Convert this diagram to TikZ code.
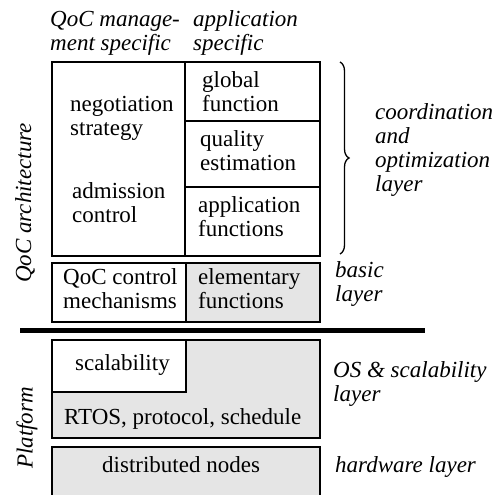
\documentclass[tikz,border=0pt]{standalone}
\usepackage{fontspec}
\setmainfont{Liberation Serif}
\usetikzlibrary{decorations.pathreplacing}
\tikzset{
  box/.style={draw,line width=2.6pt},
  gbox/.style={box,fill=gray!20},
  txt/.style={anchor=base west,inner sep=0pt,align=left},
  lbl/.style={txt,font=\fontsize{23}{24}\selectfont\itshape},
  side/.style={rotate=90,inner sep=0pt,font=\fontsize{23}{24}\selectfont\itshape},
}

\begin{document}
\begin{tikzpicture}[x=1pt,y=-1pt,font=\fontsize{23}{24}\selectfont]
   \clip (0,0) rectangle (498,495);
   % QoC architecture
   \draw[box] (52,62) rectangle (320,256);
   \draw[box] (185,62) -- (185,256);
   \draw[box] (185,121) -- (320,121);
   \draw[box] (185,187) -- (320,187);
   \draw[box] (52,263) rectangle (186,322);
   \draw[gbox] (186,263) rectangle (320,322);
   \draw[line width=5pt] (20,330) -- (425,330);
   % platform
   \draw[gbox] (52,340) rectangle (320,438);
   \draw[box,fill=white] (52,340) rectangle (186,392);
   \draw[gbox] (52,447) rectangle (320,520);
   % texts (base = last line)
   \node[lbl] (mgmthead) at (50,50.5) {QoC manage-\\ment specific};
   \node[lbl] (apphead) at (193,50.5) {application\\specific};
   \node[txt] (neg) at (70,135.5) {negotiation\\strategy};
   \node[txt] (adm) at (72,222.5) {admission\\control};
   \node[txt] (glob) at (202,111.5) {global\\function};
   \node[txt] (qual) at (200,170.5) {quality\\estimation};
   \node[txt] (appf) at (198,236.5) {application\\functions};
   \node[txt] (ctrl) at (63,308) {QoC control\\mechanisms};
   \node[txt] (elem) at (198,308) {elementary\\functions};
   \node[txt] (scal) at (75,370) {scalability};
   \node[txt] (rtos) at (64,424) {RTOS, protocol, schedule};
   \node[txt] (dist) at (102,472) {distributed nodes};
   \draw[decorate,decoration={brace,amplitude=9pt},line width=1.3pt] (340,62) -- (340,254);
   \node[lbl] (coord) at (375,191.5) {coordination\\and\\optimization\\layer};
   \node[lbl] (basic) at (335,301.5) {basic\\layer};
   \node[lbl] (osl) at (333,401.5) {OS \& scalability\\layer};
   \node[lbl] (hwl) at (335,472) {hardware layer};
   \node[side] (qocarch) at (25,203) {QoC architecture};
   \node[side] (platform) at (27,428) {Platform};
\end{tikzpicture}
\end{document}
